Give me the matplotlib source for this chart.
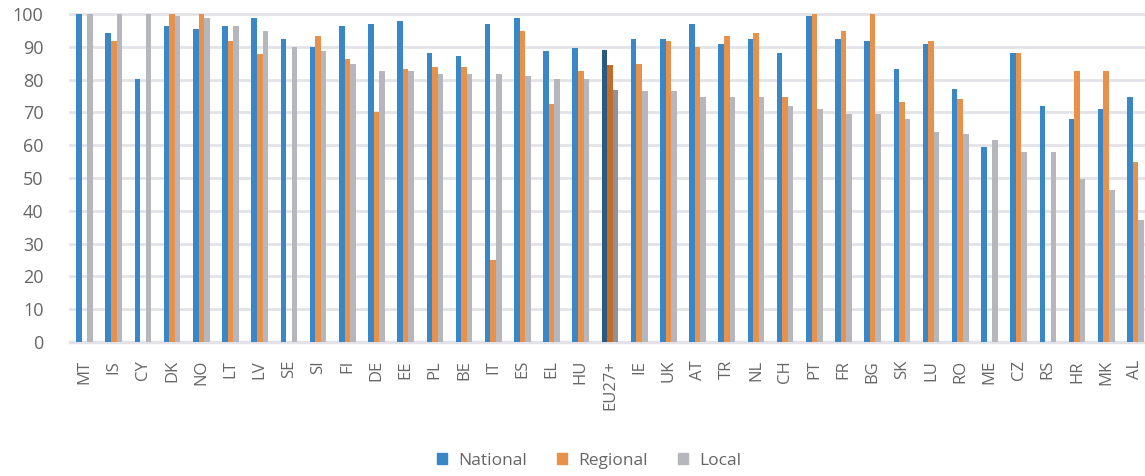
import numpy as np
import matplotlib
matplotlib.use("Agg")
import matplotlib.pyplot as plt
from matplotlib.patches import Patch

plt.rcParams['font.family'] = ['Open Sans', 'DejaVu Sans']

countries = ['MT', 'IS', 'CY', 'DK', 'NO', 'LT', 'LV', 'SE', 'SI', 'FI', 'DE', 'EE',
             'PL', 'BE', 'IT', 'ES', 'EL', 'HU', 'EU27+', 'IE', 'UK', 'AT', 'TR', 'NL',
             'CH', 'PT', 'FR', 'BG', 'SK', 'LU', 'RO', 'ME', 'CZ', 'RS', 'HR', 'MK', 'AL']

national = [100, 94.1, 80.1, 96.2, 95.4, 96.2, 98.7, 92.5, 90.0, 96.2, 97.1, 97.9,
            88.0, 87.1, 97.1, 98.7, 88.7, 89.5, 89.0, 92.5, 92.5, 97.1, 90.9, 92.5,
            88.0, 99.5, 92.5, 91.7, 83.3, 90.9, 77.1, 59.6, 88.0, 71.8, 67.9, 71.0, 74.8]

regional = [np.nan, 91.7, np.nan, 100, 100, 91.7, 87.8, np.nan, 93.3, 86.3, 70.1, 83.3,
            83.8, 83.8, 25.0, 94.8, 72.6, 82.6, 84.3, 84.8, 91.7, 90.0, 93.3, 94.1,
            74.8, 100, 94.9, 100, 73.2, 91.7, 74.0, np.nan, 88.0, np.nan, 82.6, 82.6, 54.9]

local = [100, 100, 100, 99.5, 98.7, 96.2, 94.9, 90.0, 88.7, 84.8, 82.6, 82.6,
         81.7, 81.7, 81.7, 81.0, 80.2, 80.2, 76.9, 76.4, 76.4, 74.8, 74.8, 74.8,
         71.8, 71.0, 69.5, 69.5, 67.9, 64.0, 63.3, 61.6, 57.9, 57.9, 49.6, 46.3, 37.2]

c_nat, c_reg, c_loc = '#3a87c8', '#e8914a', '#b5b7bd'
c_nat_eu, c_reg_eu, c_loc_eu = '#2b5a80', '#c26c28', '#8f9297'

x = np.arange(len(countries))
w = 0.19
is_eu = [c == 'EU27+' for c in countries]

fig = plt.figure(figsize=(11.45, 4.76), dpi=100)
ax = fig.add_axes([70 / 1145, 134 / 476, 1080 / 1145, 328 / 476])

ax.bar(x - w, national, w, color=[c_nat_eu if e else c_nat for e in is_eu], zorder=3)
ax.bar(x, regional, w, color=[c_reg_eu if e else c_reg for e in is_eu], zorder=3)
ax.bar(x + w, local, w, color=[c_loc_eu if e else c_loc for e in is_eu], zorder=3)

ax.set_xlim(-0.5, len(countries) - 0.5)
ax.set_ylim(0, 100)
ax.set_yticks(range(0, 101, 10))
ax.yaxis.grid(True, color='#e2e2e8', linewidth=2.0, zorder=0)
for gl in ax.get_ygridlines():
    gl.set_clip_on(False)

for s in ['top', 'right', 'left']:
    ax.spines[s].set_visible(False)
ax.spines['bottom'].set_color('#e2e2e8')
ax.spines['bottom'].set_linewidth(2.5)

ax.set_xticks(x)
ax.set_xticklabels(countries, rotation=90, va='top', ha='center')
ax.tick_params(axis='x', length=0, pad=13, labelsize=12, labelcolor='#666666')
ax.tick_params(axis='y', length=0, pad=19, labelsize=13, labelcolor='#666666')

handles = [Patch(color=c_nat, label='National'),
           Patch(color=c_reg, label='Regional'),
           Patch(color=c_loc, label='Local')]
fig.legend(handles=handles, loc='center', bbox_to_anchor=(589 / 1145, 1 - 461 / 476),
           ncol=3, frameon=False, fontsize=12.5, handlelength=0.6, handleheight=0.6,
           columnspacing=1.7, handletextpad=0.65, labelcolor='#666666')

fig.savefig('out.png', dpi=100)
